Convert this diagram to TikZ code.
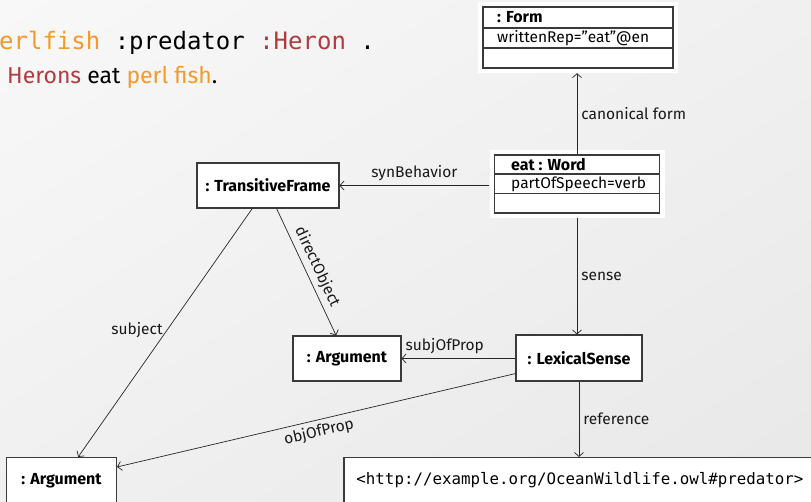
\documentclass[tikz,border=0pt]{standalone}
\usepackage{fontspec}
\setmainfont{Fira Sans}
\setsansfont{Fira Sans}
\setmonofont{DejaVu Sans Mono}
\usetikzlibrary{arrows.meta,calc,shadings}
\definecolor{rdfOrange}{HTML}{F39A2B}
\definecolor{rdfRed}{HTML}{B23A40}
\definecolor{boxLine}{HTML}{3A3A3A}
\definecolor{bgA}{HTML}{F8F8F8}
\definecolor{bgB}{HTML}{F0F0F0}
\definecolor{bgC}{HTML}{E8E8E8}

\begin{document}
\begin{tikzpicture}[x=1pt,y=-1pt,
  umlbox/.style={draw=boxLine, line width=1.1pt, fill=white, inner sep=0pt},
  backing/.style={fill=white, inner sep=0pt},
  rel/.style={draw=black!85, line width=0.7pt, -{Straight Barb[length=4pt,width=9pt]}},
  lbl/.style={font=\fontsize{15.5}{18}\selectfont, text=black!90, inner sep=4pt},
  title/.style={font=\fontsize{16}{19}\selectfont\bfseries, inner sep=0pt},
  attr/.style={font=\fontsize{15.5}{18}\selectfont, anchor=west, inner sep=0pt},
  divider/.style={draw=boxLine, line width=1.1pt},
]
% page background
\shade[upper left=bgA, upper right=bgB, lower left=bgB, lower right=bgC]
  (0,0) rectangle (811,501);
\useasboundingbox (0,0) rectangle (811,501);

% Turtle triple and its gloss
\node[anchor=west, inner sep=0pt, font=\ttfamily\fontsize{24}{28}\selectfont] (turtle) at (-1,43)
  {\textcolor{rdfOrange}{erlfish} :predator \textcolor{rdfRed}{:Heron} .};
\node[anchor=west, inner sep=0pt, font=\fontsize{23}{27}\selectfont] (gloss) at (7,77)
  {\textcolor{rdfRed}{Herons} eat \textcolor{rdfOrange}{perl fish}.};

% : Form
\node[backing, minimum width=200pt, minimum height=71pt] (formbg) at (578,37.5) {};
\node[umlbox, minimum width=190pt, minimum height=61pt] (form) at (578,37.5) {};
\draw[divider] (483,28) -- (673,28);
\draw[divider] (483,48) -- (673,48);
\node[title, anchor=west] (formT) at (497,17.5) {: Form};
\node[attr] (formA) at (497,38) {writtenRep="eat"@en};

% eat : Word
\node[backing, minimum width=175pt, minimum height=68pt] (wordbg) at (577,184) {};
\node[umlbox, minimum width=165pt, minimum height=58pt] (word) at (577,184) {};
\draw[divider] (494.5,174) -- (659.5,174);
\draw[divider] (494.5,193.5) -- (659.5,193.5);
\node[title, anchor=west] (wordT) at (511,164.5) {eat : Word};
\node[attr] (wordA) at (511,184) {partOfSpeech=verb};

% other instances
\node[umlbox, minimum width=142pt, minimum height=45pt, title] (tf) at (268,185.5) {: TransitiveFrame};
\node[umlbox, minimum width=108pt, minimum height=45pt, title] (argm) at (347,358.5) {: Argument};
\node[umlbox, minimum width=126pt, minimum height=46pt, title] (ls) at (579,358) {: LexicalSense};
\node[umlbox, minimum width=110pt, minimum height=46pt, title] (argb) at (61.5,480.5) {: Argument};
\node[umlbox, minimum width=472pt, minimum height=46pt,
      font=\ttfamily\fontsize{15.8}{18}\selectfont] (uri) at (580,480.5)
  {<http://example.org/OceanWildlife.owl\#predator>};

% relations
\draw[rel] (word.north) -- (word.north |- formbg.south)
  node[lbl, midway, right] {canonical form};
\draw[rel] (wordbg.west |- tf.east) -- (tf.east)
  node[lbl, midway, above] {synBehavior};
\draw[rel] (wordbg.south -| word.south) -- (word.south |- ls.north)
  node[lbl, midway, right] {sense};
\draw[rel] (ls.west |- argm.east) -- (argm.east)
  node[lbl, pos=0.62, above] {subjOfProp};
\draw[rel] ($(tf.south west)!0.56!(tf.south east)$) -- ($(argm.north west)!0.40!(argm.north east)$)
  node[lbl, midway, sloped, above] {directObject};
\draw[rel] ($(tf.south west)!0.39!(tf.south east)$) -- ($(argb.north west)!0.65!(argb.north east)$)
  node[lbl, pos=0.49, left] {subject};
\draw[rel] ($(ls.south west)+(0,-8)$) -- ($(argb.north east)+(0,10)$)
  node[lbl, pos=0.5, sloped, below] {objOfProp};
\draw[rel] (ls.south) -- (ls.south |- uri.north)
  node[lbl, midway, right] {reference};
\end{tikzpicture}
\end{document}
